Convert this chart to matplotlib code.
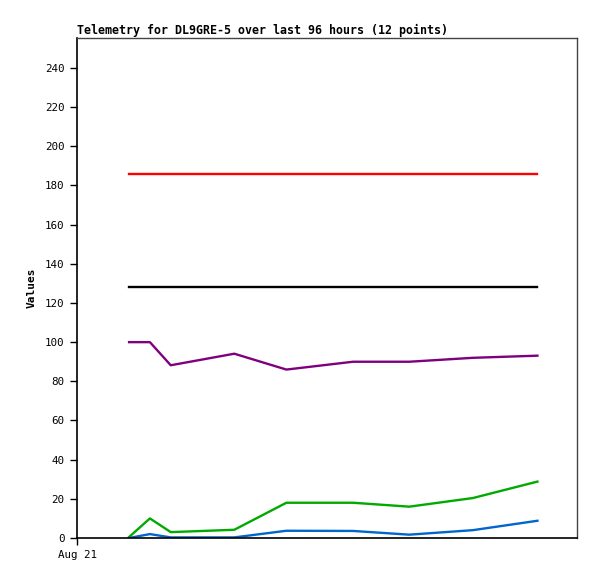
import numpy as np
import matplotlib
matplotlib.use("Agg")
import matplotlib.pyplot as plt

# hours after Aug 21 00:00
hours = [2.5, 3.5, 4.5, 7.55, 10.05, 13.25, 15.95, 19.0, 22.1]

red = [186, 186, 186, 186, 186, 186, 186, 186, 186]
black = [128, 128, 128, 128, 128, 128, 128, 128, 128]
purple = [100, 100, 88.2, 94.1, 86, 90, 90, 92, 93.1]
green = [0.5, 10, 3, 4.2, 18, 18, 16, 20.4, 28.8]
blue = [0, 2, 0.3, 0.3, 3.7, 3.6, 1.7, 4, 8.8]

yticks = list(range(0, 241, 20))
xtick_pos = [0]
xtick_labels = ["Aug 21"]

plt.rcParams['font.family'] = ['DejaVu Sans Mono']
fig = plt.figure(figsize=(5.97, 5.79), dpi=100)
ax = fig.add_axes([77/597, 41/579, 500/597, 500/579])

ax.plot(hours, red, color='#ff0000', lw=1.7)
ax.plot(hours, black, color='#000000', lw=1.7)
ax.plot(hours, purple, color='#7f007f', lw=1.7)
ax.plot(hours, green, color='#00aa00', lw=1.7)
ax.plot(hours, blue, color='#0066cc', lw=1.7)

ax.set_xlim(0, 24)
ax.set_ylim(0, 255.3)
ax.set_yticks(yticks)
ax.set_xticks(xtick_pos)
ax.set_xticklabels(xtick_labels)
ax.tick_params(labelsize=7.8, length=5, width=1, color='black', pad=4)
for s in ['left', 'bottom']:
    ax.spines[s].set_color('black')
    ax.spines[s].set_linewidth(1.2)
for s in ['top', 'right']:
    ax.spines[s].set_color('#444444')
    ax.spines[s].set_linewidth(1)

ax.set_ylabel('Values', fontsize=8, fontweight='bold', labelpad=6)
ax.set_title('Telemetry for DL9GRE-5 over last 96 hours (12 points)',
             loc='left', fontsize=8.4, fontweight='bold', pad=3)

fig.savefig('out.png', dpi=100)
